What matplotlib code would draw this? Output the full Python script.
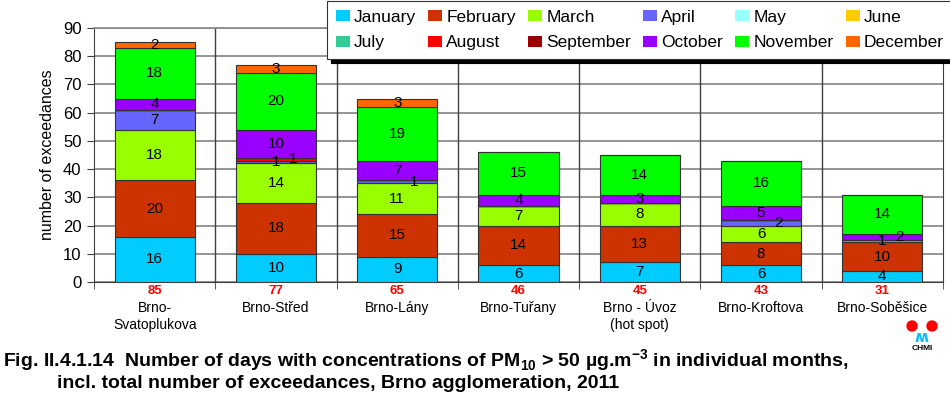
import numpy as np
import matplotlib
matplotlib.use("Agg")
import matplotlib.pyplot as plt
from matplotlib.patches import Patch, Ellipse

plt.rcParams['font.family'] = ['Liberation Sans', 'DejaVu Sans']
plt.rcParams['mathtext.fontset'] = 'custom'
plt.rcParams['mathtext.rm'] = 'Liberation Sans'
plt.rcParams['mathtext.bf'] = 'Liberation Sans:bold'

stations = ["Brno-\nSvatoplukova", "Brno-Střed", "Brno-Lány", "Brno-Tuřany",
            "Brno - Úvoz\n(hot spot)", "Brno-Kroftova", "Brno-Soběšice"]
months = ["January", "February", "March", "April", "May", "June",
          "July", "August", "September", "October", "November", "December"]
colors = ["#00CCFF", "#CC3300", "#99FF00", "#6666FF", "#99FFFF", "#FFCC00",
          "#33CC99", "#FF0000", "#990000", "#9900FF", "#00FF00", "#FF6600"]

# rows = months, columns = stations
jan = [16, 10, 9, 6, 7, 6, 4]
feb = [20, 18, 15, 14, 13, 8, 10]
mar = [18, 14, 11, 7, 8, 6, 1]
apr = [7, 1, 1, 0, 0, 2, 0]
may = [0, 0, 0, 0, 0, 0, 0]
jun = [0, 0, 0, 0, 0, 0, 0]
jul = [0, 0, 0, 0, 0, 0, 0]
aug = [0, 1, 0, 0, 0, 0, 0]
sep = [0, 0, 0, 0, 0, 0, 0]
oct_ = [4, 10, 7, 4, 3, 5, 2]
nov = [18, 20, 19, 15, 14, 16, 14]
dec = [2, 3, 3, 0, 0, 0, 0]
values = np.array([jan, feb, mar, apr, may, jun, jul, aug, sep, oct_, nov, dec])
totals = values.sum(axis=0)

# small labels that Excel pushed to the right (station index, month index)
nudged = {(1, 7), (2, 3), (5, 3), (6, 9)}

fig = plt.figure(figsize=(9.5, 3.94), dpi=100)
ax = fig.add_axes([94 / 950, 1 - 282 / 394, (943 - 94) / 950, (282 - 28) / 394])

x = np.arange(len(stations))
bottom = np.zeros(len(stations))
for m in range(12):
    ax.bar(x, values[m], 0.66, bottom=bottom, color=colors[m],
           edgecolor="#333333", linewidth=0.8, zorder=3)
    for i in range(len(stations)):
        v = values[m, i]
        if v > 0:
            dx = 0.14 if (i, m) in nudged else 0
            ax.text(i + dx, bottom[i] + v / 2, str(v), ha="center", va="center",
                    fontsize=11, color="black", zorder=5)
    bottom += values[m]

ax.set_xlim(-0.5, len(stations) - 0.5)
ax.set_ylim(0, 90)
ax.set_yticks(np.arange(0, 91, 10))
ax.tick_params(axis="y", labelsize=12, length=5, direction="out", pad=4,
               color="#404040")
ax.yaxis.grid(True, color="#8c8c8c", linewidth=1.3, zorder=0)
ax.set_axisbelow(True)
for b in np.arange(0.5, len(stations) - 0.5, 1):
    ax.axvline(b, color="#404040", linewidth=1, zorder=1)

ax.set_xticks(x)
ax.set_xticklabels([])
ax.tick_params(axis="x", length=0)
ax.set_xticks(np.arange(-0.5, len(stations), 1), minor=True)
ax.tick_params(axis="x", which="minor", length=5, color="#404040")

for s in ["left", "bottom", "right"]:
    ax.spines[s].set_color("#404040")
ax.spines["top"].set_color("#8c8c8c")
ax.spines["top"].set_linewidth(1.3)

ax.set_ylabel("number of exceedances", fontsize=11.5, labelpad=6)

tr = ax.get_xaxis_transform()
for i, (name, t) in enumerate(zip(stations, totals)):
    ax.text(i, -0.035, str(t), transform=tr, ha="center", va="center",
            color="#FF0000", fontweight="bold", fontsize=9.5)
    ax.text(i, -0.075, name, transform=tr, ha="center", va="top",
            fontsize=10, linespacing=1.25)

handles = [Patch(facecolor=c, edgecolor="none") for c in colors]
order = []
for c in range(6):
    order += [c, c + 6]
leg = fig.legend([handles[k] for k in order], [months[k] for k in order],
                 ncol=6, loc="upper left",
                 bbox_to_anchor=(327 / 950, 1 - 1 / 394),
                 fontsize=12.5, frameon=True, fancybox=False,
                 shadow={"color": "black", "alpha": 1, "ox": 3, "oy": -3},
                 handlelength=0.8, handleheight=0.58, handletextpad=0.25,
                 columnspacing=0.7, labelspacing=0.62, borderpad=0.5,
                 borderaxespad=0)
leg.get_frame().set_edgecolor("#333333")
leg.get_frame().set_linewidth(0.8)

fig.text(3 / 950, 1 - 361 / 394,
         r"Fig. II.4.1.14  Number of days with concentrations of PM$_{\mathbf{10}}$ > 50 µg.m$^{\mathbf{-3}}$ in individual months,",
         fontsize=14, fontweight="bold", va="center", ha="left")
fig.text(57 / 950, 1 - 383 / 394,
         "incl. total number of exceedances, Brno agglomeration, 2011",
         fontsize=14, fontweight="bold", va="center", ha="left")

# CHMI logo
for cx in (912, 932):
    fig.patches.append(Ellipse((cx / 950, 1 - 326 / 394), 10 / 950, 10 / 394,
                               transform=fig.transFigure, color="#FF0000"))
fig.text(922 / 950, 1 - 338 / 394, "ʍ", color="#00BFFF", fontsize=11,
         ha="center", va="center", fontweight="bold", family="DejaVu Sans")
fig.text(922 / 950, 1 - 349 / 394, "CHMI", fontsize=6, fontweight="bold",
         ha="center", va="center")

fig.savefig("out.png", dpi=100)
